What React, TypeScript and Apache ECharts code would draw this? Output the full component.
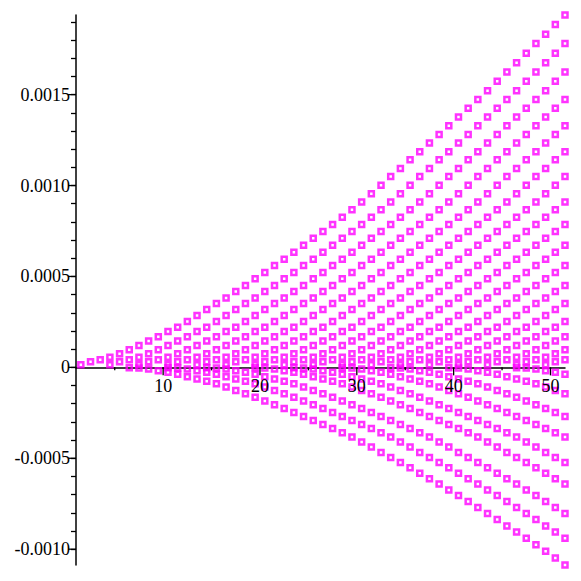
import React, { useEffect, useRef } from "react";
import * as echarts from "echarts";

// x positions of the columns of points
const columnX = [
  1.5, 2.5, 3.5, 4.5, 5.5, 6.5, 7.5, 8.5, 9.5, 10.5, 11.5, 12.5, 13.5, 14.5, 15.5, 16.5, 17.5,
  18.5, 19.5, 20.5, 21.5, 22.5, 23.5, 24.5, 25.5, 26.5, 27.5, 28.5, 29.5, 30.5, 31.5, 32.5, 33.5,
  34.5, 35.5, 36.5, 37.5, 38.5, 39.5, 40.5, 41.5, 42.5, 43.5, 44.5, 45.5, 46.5, 47.5, 48.5, 49.5,
  50.5, 51.5,
];

// upper curve (units of 1e-5), one value per column starting at x = 1.5
const topCurve = [
  1.5, 3.1, 4.2, 5.5, 7.5, 9.7, 12.0, 14.5, 16.9, 19.7, 22.0, 25.2, 28.5, 31.8, 35.1, 38.2, 41.7,
  45.0, 48.7, 52.2, 56.0, 59.5, 63.3, 67.2, 71.0, 74.7, 78.6, 82.6, 86.7, 91.0, 95.5, 100.2, 105.0,
  109.4, 114.2, 118.6, 123.4, 128.1, 132.9, 137.7, 142.5, 147.3, 152.2, 157.3, 162.5, 167.6, 172.8,
  178.1, 183.2, 188.6, 193.8,
];
// the rising lines repeat the upper curve, starting this many columns later
const upperLineStarts = [0, 3, 6, 9, 12, 15, 18, 21, 24, 27, 30, 33, 36, 39, 42, 45, 48];

// lowest curve (units of -1e-5), starting at column index 5 (x = 6.5)
const bottomCurveStart = 5;
const bottomCurve = [
  0.2, 0.35, 0.9, 1.8, 2.75, 3.85, 5.1, 6.4, 7.7, 9.0, 10.8, 12.7, 14.5, 16.5, 18.5, 20.5,
  22.6, 24.8, 27.0, 29.2, 31.4, 33.6, 36.0, 38.3, 41.0, 43.8, 46.8, 49.6, 52.3, 55.2, 58.2, 61.3,
  64.2, 67.4, 70.5, 73.8, 77.1, 80.4, 83.7, 87.2, 90.5, 94.0, 97.6, 101.1, 104.8, 108.7,
];
const lowerLineStarts = [0, 4, 8, 13, 17, 22, 27, 33, 40];

// axis ticks
const xMajorTicks = [10, 20, 30, 40, 50];
const xMinorTicks = [5, 15, 25, 35, 45];
const yMajorTicks = [-0.001, -0.0005, 0, 0.0005, 0.001, 0.0015];
const yAllTicks = [
  -0.001, -0.0009, -0.0008, -0.0007, -0.0006, -0.0005, -0.0004, -0.0003, -0.0002, -0.0001, 0,
  0.0001, 0.0002, 0.0003, 0.0004, 0.0005, 0.0006, 0.0007, 0.0008, 0.0009, 0.001, 0.0011, 0.0012,
  0.0013, 0.0014, 0.0015, 0.0016, 0.0017, 0.0018, 0.0019,
];

const SCALE = 1e-5;
const MAGENTA = "#ff00ff";
const FONT = "Liberation Serif";
const FONT_SIZE = 18;

export default function App() {
  const ref = useRef<HTMLDivElement>(null);
  useEffect(() => {
    if (!ref.current) return;
    const chart = echarts.init(ref.current, null, { renderer: "svg" });

    const pointStyle = {
      type: "scatter" as const,
      symbol: "rect",
      symbolSize: 5,
      itemStyle: { color: "rgba(0,0,0,0)", borderColor: MAGENTA, borderWidth: 2.5 },
      silent: true,
      z: 3,
    };

    const series: any[] = [];
    upperLineStarts.forEach((s) => {
      const data: number[][] = [];
      topCurve.forEach((v, i) => {
        const idx = i + s;
        if (idx < columnX.length) data.push([columnX[idx], v * SCALE]);
      });
      series.push({ ...pointStyle, data });
    });
    lowerLineStarts.forEach((s) => {
      const data: number[][] = [];
      bottomCurve.forEach((v, i) => {
        const idx = bottomCurveStart + i + s;
        if (idx < columnX.length) data.push([columnX[idx], -v * SCALE]);
      });
      series.push({ ...pointStyle, data });
    });

    // x ticks (drawn on the zero line)
    const xTickData = [
      ...xMinorTicks.map((v) => [v, 0, 3]),
      ...xMajorTicks.map((v) => [v, 0, 8]),
    ];
    series.push({
      type: "custom",
      silent: true,
      clip: false,
      z: 5,
      data: xTickData,
      renderItem: (_p: any, api: any) => {
        const pt = api.coord([api.value(0), 0]);
        return {
          type: "line",
          shape: { x1: pt[0], y1: pt[1], x2: pt[0], y2: pt[1] + api.value(2) },
          style: { stroke: "#000", lineWidth: 1.3 },
        };
      },
    });
    // x labels (drawn under the zero line)
    series.push({
      type: "custom",
      silent: true,
      clip: false,
      z: 5,
      data: xMajorTicks.map((v) => [v, 0]),
      renderItem: (_p: any, api: any) => {
        const v = api.value(0);
        const pt = api.coord([v, 0]);
        return {
          type: "text",
          x: pt[0],
          y: pt[1] + 10,
          style: {
            text: String(v),
            fill: "#000",
            fontFamily: FONT,
            fontSize: FONT_SIZE,
            align: "center",
            verticalAlign: "top",
          },
        };
      },
    });
    // y major ticks (longer)
    series.push({
      type: "custom",
      silent: true,
      clip: false,
      z: 5,
      data: yMajorTicks.map((v) => [1, v]),
      renderItem: (_p: any, api: any) => {
        const pt = api.coord([1, api.value(1)]);
        return {
          type: "line",
          shape: { x1: pt[0] - 8, y1: pt[1], x2: pt[0], y2: pt[1] },
          style: { stroke: "#000", lineWidth: 1.3 },
        };
      },
    });

    chart.setOption({
      animation: false,
      backgroundColor: "#fff",
      textStyle: { fontFamily: FONT },
      grid: {
        left: 76,
        right: 16,
        top: 15,
        bottom: 16,
        containLabel: false,
        outerBoundsMode: "none",
      },
      xAxis: {
        type: "value",
        min: 1,
        max: 51.5,
        axisLine: { onZero: true, lineStyle: { color: "#000", width: 1.5 } },
        axisTick: { show: false },
        axisLabel: { show: false },
        splitLine: { show: false },
      },
      yAxis: {
        type: "value",
        min: "dataMin",
        max: "dataMax",
        axisLine: { show: true, onZero: false, lineStyle: { color: "#000", width: 1.5 } },
        axisTick: {
          show: true,
          customValues: yAllTicks,
          length: 5,
          lineStyle: { color: "#000", width: 1.3 },
        },
        axisLabel: {
          customValues: yMajorTicks,
          color: "#000",
          fontFamily: FONT,
          fontSize: FONT_SIZE,
          margin: 6,
          formatter: (v: number) => (Math.abs(v) < 1e-12 ? "0" : v.toFixed(4)),
        },
        splitLine: { show: false },
      },
      series,
    });
    return () => chart.dispose();
  }, []);
  return (
    <div
      ref={ref}
      style={{ position: "fixed", left: 0, top: 0, width: 581, height: 581, background: "#fff" }}
    />
  );
}
